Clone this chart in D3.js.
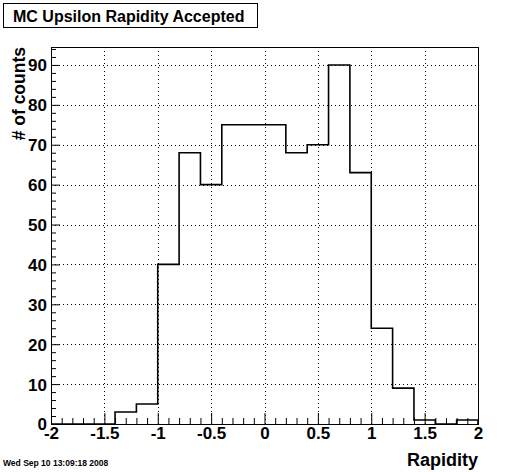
<!DOCTYPE html>
<html>
<head>
<meta charset="utf-8">
<script src="https://cdn.jsdelivr.net/npm/d3@7"></script>
<style>
  body { margin: 0; background: #fff; }
  text { font-family: "Liberation Sans", Arial, sans-serif; font-weight: bold; }
</style>
</head>
<body>
<div id="chart"></div>
<script>
// histogram bins: low edges, width 0.2
const binLow = [-2.0, -1.8, -1.6, -1.4, -1.2, -1.0, -0.8, -0.6, -0.4, -0.2,
                0.0, 0.2, 0.4, 0.6, 0.8, 1.0, 1.2, 1.4, 1.6, 1.8];
const binWidth = 0.2;
const counts = [0, 0, 0, 3, 5, 40, 68, 60, 75, 75,
                75, 68, 70, 90, 63, 24, 9, 1, 0, 1];

const xMajor = [-2, -1.5, -1, -0.5, 0, 0.5, 1, 1.5, 2];
const xMinor = [-1.9, -1.8, -1.7, -1.6, -1.4, -1.3, -1.2, -1.1, -0.9, -0.8, -0.7, -0.6,
                -0.4, -0.3, -0.2, -0.1, 0.1, 0.2, 0.3, 0.4, 0.6, 0.7, 0.8, 0.9,
                1.1, 1.2, 1.3, 1.4, 1.6, 1.7, 1.8, 1.9];
const yMajor = [0, 10, 20, 30, 40, 50, 60, 70, 80, 90];
const yMinor = [2, 4, 6, 8, 12, 14, 16, 18, 22, 24, 26, 28, 32, 34, 36, 38, 42, 44, 46, 48,
                52, 54, 56, 58, 62, 64, 66, 68, 72, 74, 76, 78, 82, 84, 86, 88, 92, 94];

const W = 505, H = 472;
const fx0 = 51, fx1 = 478, fy0 = 47, fy1 = 424;

const svg = d3.select("#chart").append("svg")
  .attr("width", W).attr("height", H);
svg.append("rect").attr("width", W).attr("height", H).attr("fill", "#fff");

const x = d3.scaleLinear().domain([-2, 2]).range([fx0, fx1]);
const y = d3.scaleLinear().domain([0, 94.5]).range([fy1, fy0]);

// ==== grid ====
const grid = svg.append("g").attr("stroke", "#000").attr("stroke-width", 1)
  .attr("stroke-dasharray", "1,3");
grid.selectAll(".gx").data(xMajor.slice(1, -1)).enter().append("line")
  .attr("x1", d => Math.round(x(d)) + 0.5).attr("x2", d => Math.round(x(d)) + 0.5)
  .attr("y1", fy0).attr("y2", fy1);
grid.selectAll(".gy").data(yMajor.slice(1)).enter().append("line")
  .attr("y1", d => Math.round(y(d)) + 0.5).attr("y2", d => Math.round(y(d)) + 0.5)
  .attr("x1", fx0).attr("x2", fx1);

// ==== histogram outline ====
const pts = [[x(binLow[0]), y(0)]];
binLow.forEach((lo, i) => {
  pts.push([x(lo), y(counts[i])]);
  pts.push([x(lo + binWidth), y(counts[i])]);
});
pts.push([x(2), y(0)]);
svg.append("path")
  .attr("d", d3.line()(pts))
  .attr("fill", "none")
  .attr("stroke", "#000")
  .attr("stroke-width", 1.6);

// ==== axes ====
const xAx = svg.append("g").attr("transform", `translate(0,${fy1})`)
  .call(d3.axisBottom(x).tickValues(xMajor).tickSizeInner(-11).tickSizeOuter(0)
    .tickPadding(3).tickFormat(d => String(d)));
xAx.selectAll("text").style("font-size", "17px").attr("fill", "#000");
svg.append("g").attr("transform", `translate(0,${fy1})`)
  .call(d3.axisBottom(x).tickValues(xMinor).tickSizeInner(-6).tickSizeOuter(0).tickFormat(""));

const yAx = svg.append("g").attr("transform", `translate(${fx0},0)`)
  .call(d3.axisLeft(y).tickValues(yMajor).tickSizeInner(-9).tickSizeOuter(0)
    .tickPadding(4).tickFormat(d => String(d)));
yAx.selectAll("text").style("font-size", "17px").attr("fill", "#000").attr("dy", "0.35em");
svg.append("g").attr("transform", `translate(${fx0},0)`)
  .call(d3.axisLeft(y).tickValues(yMinor).tickSizeInner(-5).tickSizeOuter(0).tickFormat(""));

svg.selectAll(".domain").remove();
svg.selectAll(".tick line").attr("stroke", "#000");

// frame
svg.append("rect")
  .attr("x", fx0 + 0.5).attr("y", fy0 + 0.5)
  .attr("width", fx1 - fx0).attr("height", fy1 - fy0)
  .attr("fill", "none").attr("stroke", "#000").attr("stroke-width", 1);

// ==== titles ====
svg.append("rect")
  .attr("x", 3.5).attr("y", 3.5).attr("width", 254).attr("height", 24)
  .attr("fill", "#fff").attr("stroke", "#000");
svg.append("text").attr("x", 13).attr("y", 22)
  .style("font-size", "16px").text("MC Upsilon Rapidity Accepted");

svg.append("text").attr("x", fx1).attr("y", 466)
  .attr("text-anchor", "end").style("font-size", "18px").text("Rapidity");

svg.append("text")
  .attr("transform", `translate(25,${fy0}) rotate(-90)`)
  .attr("text-anchor", "end").style("font-size", "17.5px").text("# of counts");

svg.append("text").attr("x", 3).attr("y", 466)
  .style("font-size", "8.5px").text("Wed Sep 10 13:09:18 2008");
</script>
</body>
</html>
